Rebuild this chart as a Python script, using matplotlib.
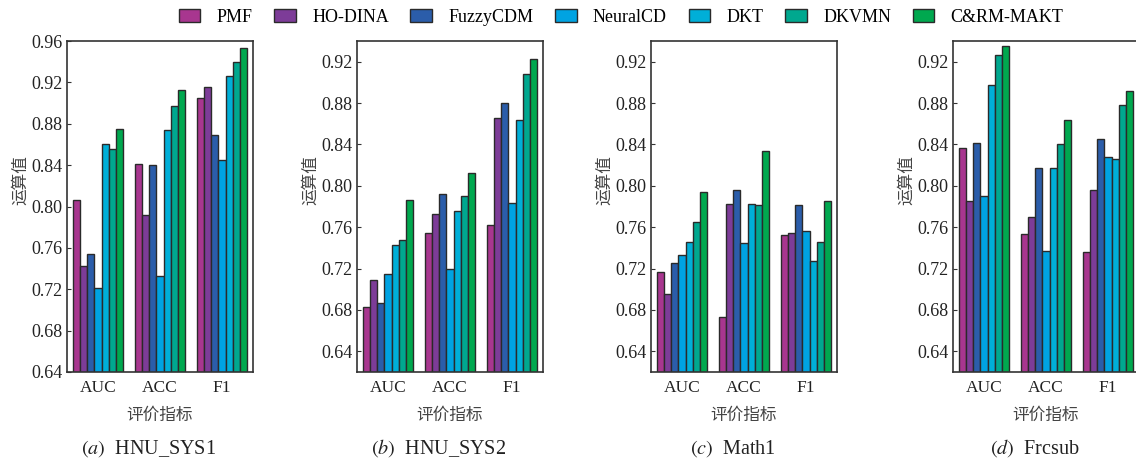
import matplotlib
matplotlib.use("Agg")
import matplotlib.pyplot as plt
import numpy as np

plt.rcParams['font.family'] = ['Liberation Serif', 'Noto Sans CJK SC']
plt.rcParams['mathtext.fontset'] = 'stix'

models = ["PMF", "HO-DINA", "FuzzyCDM", "NeuralCD", "DKT", "DKVMN", "C&RM-MAKT"]
colors = ["#A8368F", "#7D3C98", "#2B5DAA", "#00A3E2", "#00AFD8", "#00A88F", "#00A84F"]
metrics = ["AUC", "ACC", "F1"]

# 每个数据集: 行 = 指标 (AUC, ACC, F1), 列 = 模型
hnu_sys1 = [[0.806, 0.742, 0.754, 0.721, 0.860, 0.856, 0.875],
            [0.841, 0.792, 0.840, 0.733, 0.874, 0.897, 0.913],
            [0.905, 0.916, 0.869, 0.845, 0.926, 0.940, 0.953]]
hnu_sys2 = [[0.683, 0.709, 0.687, 0.715, 0.743, 0.748, 0.786],
            [0.754, 0.773, 0.792, 0.720, 0.776, 0.790, 0.812],
            [0.762, 0.866, 0.880, 0.783, 0.864, 0.908, 0.923]]
math1 = [[0.717, 0.695, 0.725, 0.733, 0.746, 0.765, 0.794],
         [0.673, 0.782, 0.796, 0.745, 0.782, 0.781, 0.834],
         [0.752, 0.754, 0.781, 0.756, 0.727, 0.746, 0.785]]
frcsub = [[0.837, 0.785, 0.841, 0.790, 0.897, 0.926, 0.935],
          [0.753, 0.770, 0.817, 0.737, 0.817, 0.840, 0.864],
          [0.736, 0.796, 0.845, 0.828, 0.826, 0.878, 0.892]]

panels = [("a", "HNU_SYS1", hnu_sys1, (0.64, 0.96)),
          ("b", "HNU_SYS2", hnu_sys2, (0.62, 0.94)),
          ("c", "Math1", math1, (0.62, 0.94)),
          ("d", "Frcsub", frcsub, (0.62, 0.94))]

W, H = 1136, 459
fig = plt.figure(figsize=(W / 100, H / 100), dpi=100)
lefts = [67, 357, 651, 953]
ax_w, top, bottom = 186, 41, 372

x = np.arange(len(metrics))
bw = 0.8 / len(models)
for (tag, name, data, ylim), left in zip(panels, lefts):
    ax = fig.add_axes([left / W, 1 - bottom / H, ax_w / W, (bottom - top) / H])
    data = np.array(data)
    for i, m in enumerate(models):
        ax.bar(x - 0.4 + bw * (i + 0.5), data[:, i], bw, color=colors[i],
               edgecolor="#2a2a2a", linewidth=1.0, label=m)
    ax.set_xlim(-0.5, 2.5)
    ax.set_ylim(*ylim)
    ax.set_yticks(np.arange(0.64, ylim[1] + 0.001, 0.04))
    ax.yaxis.set_major_formatter(matplotlib.ticker.FormatStrFormatter('%.2f'))
    ax.set_xticks(x)
    ax.set_xticklabels(metrics)
    ax.tick_params(axis='y', direction='in', length=3, labelsize=13, pad=3, colors='#333333',
                   labelcolor='#222222')
    ax.tick_params(axis='x', length=0, labelsize=12.5, pad=6, labelcolor='#222222')
    for s in ax.spines.values():
        s.set_color('#333333')
        s.set_linewidth(1.2)
    ax.set_ylabel("运算值", fontsize=12, color='#444444')
    ax.yaxis.set_label_coords(-38 / ax_w, 0.58)
    ax.set_xlabel("评价指标", fontsize=12, color='#444444', labelpad=8)
    ax.text(0.44, -0.23, rf"$(\mathit{{{tag}}})$  {name}", transform=ax.transAxes,
            ha='center', va='center', fontsize=14.5, color='#222222')

handles, labels = ax.get_legend_handles_labels()
fig.legend(handles, labels, loc='center', bbox_to_anchor=(621 / W, 1 - 17 / H), ncol=7,
           frameon=False, fontsize=13, handlelength=1.2, handleheight=0.7,
           columnspacing=1.2, handletextpad=0.9)

fig.savefig("out.png", dpi=100)
